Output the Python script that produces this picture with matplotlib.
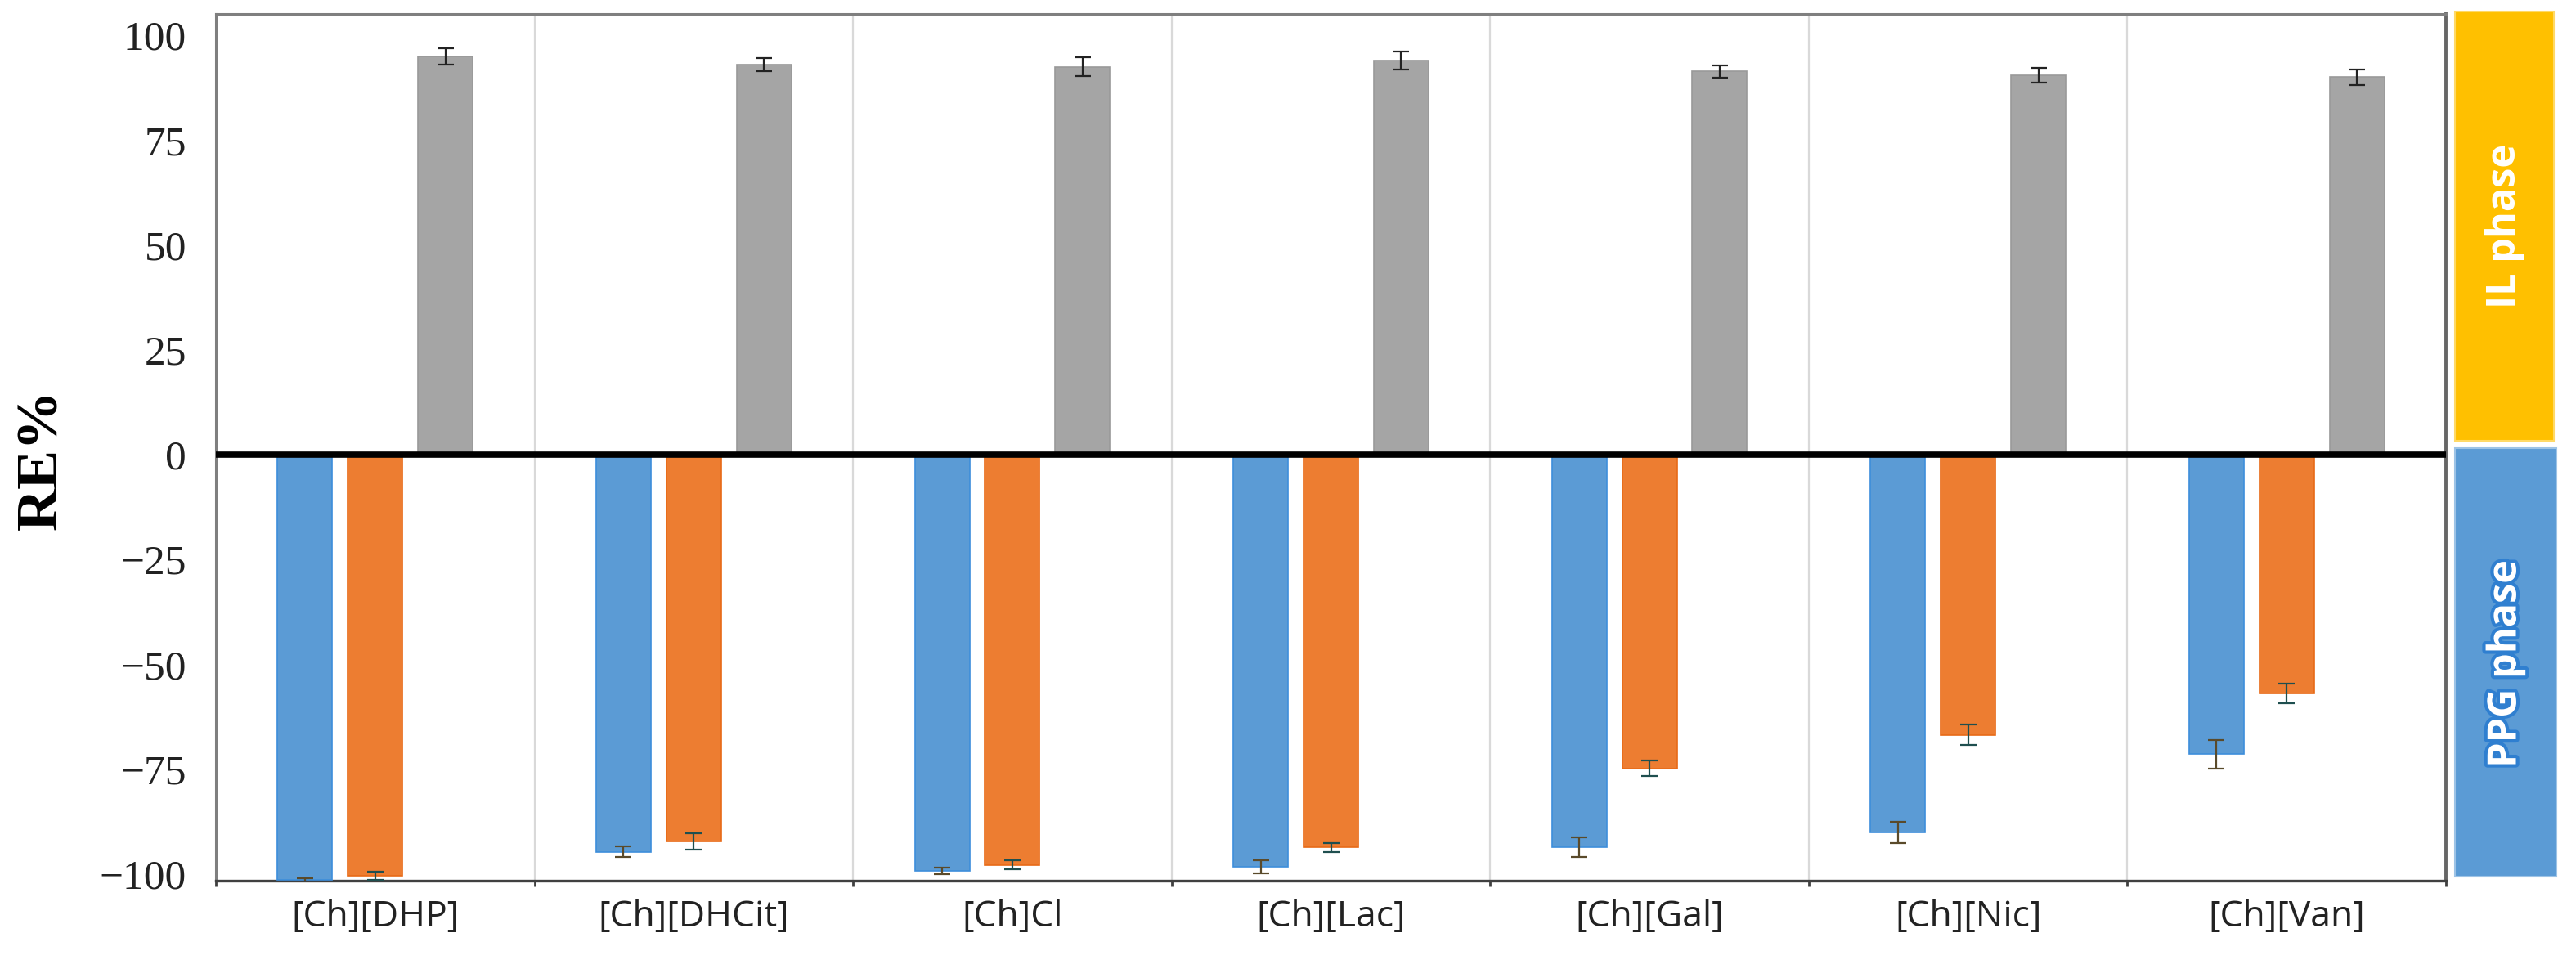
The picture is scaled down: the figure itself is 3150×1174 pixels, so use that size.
import matplotlib
matplotlib.use('Agg')
import matplotlib.pyplot as plt
import matplotlib.patheffects as pe
from matplotlib.patches import Rectangle
import numpy as np

# data (RE%, PPG phase negative, IL phase positive)
categories = ['[Ch][DHP]', '[Ch][DHCit]', '[Ch]Cl', '[Ch][Lac]', '[Ch][Gal]', '[Ch][Nic]', '[Ch][Van]']
ppg_blue = [-101.5, -94.7, -99.3, -98.3, -93.6, -90.1, -71.4]
ppg_blue_err = [0.5, 1.2, 0.8, 1.6, 2.3, 2.5, 3.4]
ppg_orange = [-100.5, -92.2, -97.8, -93.7, -74.8, -66.8, -57.0]
ppg_orange_err = [1.0, 1.9, 1.1, 1.1, 1.9, 2.5, 2.3]
il_gray = [95.0, 93.0, 92.5, 94.0, 91.4, 90.5, 90.0]
il_gray_err = [1.9, 1.6, 2.2, 2.2, 1.5, 1.7, 1.9]
y_ticks = [-100, -75, -50, -25, 0, 25, 50, 75, 100]

plt.rcParams['font.family'] = ['Liberation Serif', 'DejaVu Serif']

W, H = 3150, 1174
fig = plt.figure(figsize=(W / 100, H / 100), dpi=100)
ax = fig.add_axes([264 / W, 1 - 1077 / H, (2991 - 264) / W, (1077 - 17) / H])

x = np.arange(len(categories))
off = 0.2205
w = 0.172

def err_kw(c):
    return dict(ecolor=c, elinewidth=1.6, capsize=7, capthick=1.6, zorder=4)

ax.bar(x - off, ppg_blue, w, color='#5B9BD5', edgecolor='#3D8EDB', linewidth=1.2,
       yerr=ppg_blue_err, error_kw=err_kw('#5a4a2a'), zorder=3)
ax.bar(x, ppg_orange, w, color='#ED7D31', edgecolor='#E86A17', linewidth=1.2,
       yerr=ppg_orange_err, error_kw=err_kw('#1f4f4f'), zorder=3)
ax.bar(x + off, il_gray, w, color='#A5A5A5', edgecolor='#999999', linewidth=1.2,
       yerr=il_gray_err, error_kw=err_kw('#222222'), zorder=3)

ax.axhline(0, color='black', linewidth=5.5, zorder=5)

ax.set_xlim(-0.5, len(categories) - 0.5)
ax.set_ylim(-101.6, 105.1)
ax.set_yticks(y_ticks)
ax.tick_params(axis='y', length=0, pad=26, labelsize=37, labelcolor='#222222')

ax.set_xticks(x)
ax.set_xticklabels(categories, fontfamily='Open Sans', fontsize=32, color='#222222')
ax.tick_params(axis='x', which='major', length=0, pad=16)
ax.set_xticks(np.arange(-0.5, len(categories), 1), minor=True)
ax.tick_params(axis='x', which='minor', length=5, width=2, color='#404040')
ax.grid(which='minor', axis='x', color='#D9D9D9', linewidth=1.6)
ax.set_axisbelow(True)

for s in ['top', 'left']:
    ax.spines[s].set_color('#7F7F7F')
    ax.spines[s].set_linewidth(2.2)
ax.spines['right'].set_color('#666666')
ax.spines['right'].set_linewidth(2.8)
ax.spines['bottom'].set_color('#404040')
ax.spines['bottom'].set_linewidth(2.4)

# axis title
fig.text(52 / W, 1 - 562 / H, 'RE%', rotation=90, fontsize=52, fontweight='bold',
         color='black', ha='center', va='center')

# phase boxes on the right
fig.add_artist(Rectangle((3002 / W, 1 - 539 / H), 121 / W, (539 - 13.5) / H,
                         transform=fig.transFigure, facecolor='#FFC000',
                         edgecolor='#FFD966', linewidth=1.5))
fig.add_artist(Rectangle((3002 / W, 1 - 1072 / H), 124 / W, (1072 - 548) / H,
                         transform=fig.transFigure, facecolor='#5B9BD5',
                         edgecolor='#9DC3E6', linewidth=1.5))
fig.text(3064 / W, 1 - 276 / H, 'IL phase', rotation=90, color='white',
         fontweight='bold', fontfamily='Open Sans', fontsize=35,
         ha='center', va='center')
fig.text(3064 / W, 1 - 812 / H, 'PPG phase', rotation=90, color='white',
         fontweight='bold', fontfamily='Open Sans', fontsize=35,
         ha='center', va='center',
         path_effects=[pe.withStroke(linewidth=6, foreground='#2F7FD0')])

fig.savefig('out.png', dpi=100)
